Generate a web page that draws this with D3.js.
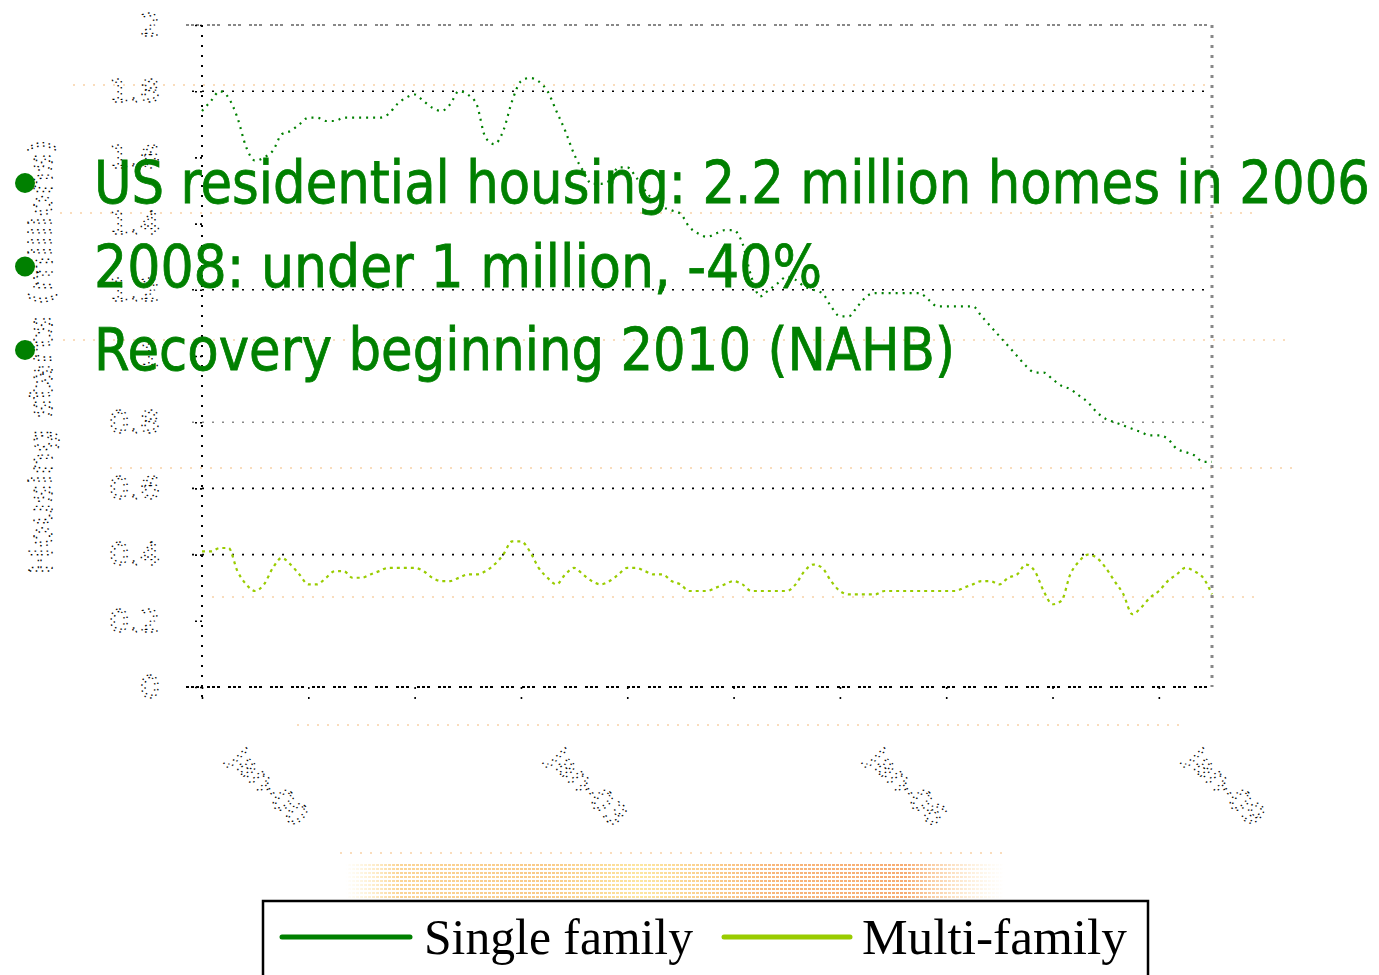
<!DOCTYPE html>
<html>
<head>
<meta charset="utf-8">
<script src="https://cdn.jsdelivr.net/npm/d3@7"></script>
<style>
body { margin: 0; background: #fff; }
svg { display: block; }
</style>
</head>
<body>
<div id="chart"></div>
<script>
// monthly values, Jan-00 .. Jul-09 (millions of units)
var singleFamily = [
  1.74, 1.77, 1.80, 1.78, 1.72, 1.63, 1.59, 1.60, 1.62, 1.67, 1.68, 1.70,
  1.72, 1.72, 1.71, 1.71, 1.72, 1.72, 1.72, 1.72, 1.72, 1.73, 1.76, 1.78,
  1.79, 1.77, 1.75, 1.74, 1.76, 1.80, 1.79, 1.76, 1.66, 1.64, 1.68, 1.77,
  1.83, 1.84, 1.83, 1.80, 1.74, 1.68, 1.61, 1.56, 1.52, 1.52, 1.53, 1.57,
  1.57, 1.54, 1.50, 1.47, 1.45, 1.44, 1.43, 1.39, 1.37, 1.36, 1.37, 1.38,
  1.38, 1.34, 1.24, 1.18, 1.20, 1.22, 1.24, 1.23, 1.21, 1.20, 1.19, 1.15,
  1.12, 1.12, 1.15, 1.18, 1.19, 1.19, 1.19, 1.19, 1.19, 1.19, 1.17, 1.15,
  1.15, 1.15, 1.15, 1.15, 1.12, 1.09, 1.06, 1.03, 1.00, 0.97, 0.95, 0.95,
  0.93, 0.91, 0.90, 0.88, 0.86, 0.83, 0.81, 0.80, 0.79, 0.78, 0.77, 0.76,
  0.76, 0.75, 0.72, 0.71, 0.70, 0.68, 0.68
];
var multiFamily = [
  0.41, 0.41, 0.42, 0.42, 0.35, 0.31, 0.29, 0.31, 0.36, 0.39, 0.37, 0.34,
  0.31, 0.31, 0.33, 0.35, 0.35, 0.33, 0.33, 0.34, 0.35, 0.36, 0.36, 0.36,
  0.36, 0.35, 0.33, 0.32, 0.32, 0.33, 0.34, 0.34, 0.35, 0.37, 0.40, 0.44,
  0.44, 0.41, 0.36, 0.33, 0.31, 0.34, 0.36, 0.34, 0.32, 0.31, 0.32, 0.34,
  0.36, 0.36, 0.35, 0.34, 0.34, 0.32, 0.31, 0.29, 0.29, 0.29, 0.30, 0.31,
  0.32, 0.31, 0.29, 0.29, 0.29, 0.29, 0.29, 0.31, 0.35, 0.37, 0.36, 0.32,
  0.29, 0.28, 0.28, 0.28, 0.28, 0.29, 0.29, 0.29, 0.29, 0.29, 0.29, 0.29,
  0.29, 0.29, 0.30, 0.31, 0.32, 0.32, 0.31, 0.33, 0.34, 0.37, 0.35, 0.29,
  0.25, 0.26, 0.34, 0.38, 0.40, 0.39, 0.36, 0.32, 0.28, 0.22, 0.24, 0.27,
  0.29, 0.32, 0.34, 0.36, 0.35, 0.33, 0.28
];
var seriesNames = ["Single family", "Multi-family"];
var seriesColors = ["#008000", "#99cc00"];

var yTicks = [0, 0.2, 0.4, 0.6, 0.8, 1, 1.2, 1.4, 1.6, 1.8, 2];
var gridValues = [1.8, 1.2, 0.8, 0.6, 0.4];
var xTickMonths = [0, 12, 24, 36, 48, 60, 72, 84, 96, 108];
var xLabelMonths = [0, 36, 72, 108];
var xLabelText = ["Jan-00", "Jan-03", "Jan-06", "Jan-09"];
var yTitle = "Housing starts (millions)";

var bullets = [
  "US residential housing: 2.2 million homes in 2006",
  "2008: under 1 million, -40%",
  "Recovery beginning 2010 (NAHB)"
];

/*======================== layout ========================*/
var width = 1379, height = 975;
var plotL = 202, plotR = 1212, plotT = 25, plotB = 687;

var svg = d3.select("#chart").append("svg")
  .attr("width", width)
  .attr("height", height);

var defs = svg.append("defs");

// dotted mask for the faded orange band
var pat = defs.append("pattern")
  .attr("id", "dots")
  .attr("patternUnits", "userSpaceOnUse")
  .attr("width", 4).attr("height", 4);
pat.append("rect").attr("width", 3).attr("height", 2).attr("fill", "#fff");

var grad = defs.append("linearGradient").attr("id", "bandGrad");
[[0, "#fde9b0", 0], [0.08, "#fbd596", 1], [0.3, "#f9ca88", 1], [0.45, "#fde6a0", 1],
 [0.65, "#f8b67a", 1], [0.85, "#f7ac72", 1], [1, "#fde6b0", 0]].forEach(function(s) {
  grad.append("stop").attr("offset", s[0]).attr("stop-color", s[1]).attr("stop-opacity", s[2]);
});
var mask = defs.append("mask").attr("id", "bandMask");
mask.append("rect").attr("x", 0).attr("y", 0).attr("width", width).attr("height", height)
  .attr("fill", "url(#dots)");

var x = d3.scaleLinear().domain([0, singleFamily.length - 1]).range([plotL, plotR]);
var y = d3.scaleLinear().domain([0, 2]).range([plotB, plotT]);

// dotted "outline" look used for the axis texts
function dotted(sel) {
  sel.attr("fill", "none").attr("stroke", "#000").attr("stroke-width", 1.3)
    .attr("stroke-dasharray", "1.5,4.5");
}

/*======================== faint background lines ========================*/
var decor = svg.append("g");
var decorRows = [[85, 73, 1207], [213, 60, 1260], [340, 63, 1292], [468, 110, 1292],
                 [597, 212, 1262], [725, 297, 1186], [853, 340, 1004]];
decorRows.forEach(function(r) {
  decor.append("line")
    .attr("x1", r[1]).attr("x2", r[2]).attr("y1", r[0]).attr("y2", r[0])
    .attr("stroke", "#f4bd80").attr("stroke-width", 1.5)
    .attr("stroke-dasharray", "2,8").attr("opacity", 0.7);
});
svg.append("rect")
  .attr("x", 345).attr("y", 862).attr("width", 660).attr("height", 36)
  .attr("fill", "url(#bandGrad)")
  .attr("mask", "url(#bandMask)");

/*======================== grid + frame ========================*/
var g = svg.append("g");

g.selectAll(".grid")
  .data(gridValues)
  .enter().append("line")
  .attr("class", "grid")
  .attr("x1", plotL - 10).attr("x2", plotR)
  .attr("y1", function(d) { return y(d); })
  .attr("y2", function(d) { return y(d); })
  .attr("stroke", function(d) { return d === 0.8 ? "#888" : "#000"; })
  .attr("stroke-width", 1.6)
  .attr("stroke-dasharray", "2,8");

// top and right frame (grey)
g.append("line").attr("x1", plotL - 16).attr("x2", plotR).attr("y1", plotT).attr("y2", plotT)
  .attr("stroke", "#888").attr("stroke-width", 2.2).attr("stroke-dasharray", "3,2,3,2,3,8");
g.append("line").attr("x1", plotR).attr("x2", plotR).attr("y1", plotT).attr("y2", plotB)
  .attr("stroke", "#888").attr("stroke-width", 3).attr("stroke-dasharray", "3,7");

// y axis
var yAxis = g.append("g")
  .attr("transform", "translate(" + plotL + ",0)")
  .call(d3.axisLeft(y).tickValues(yTicks).tickFormat(d3.format("~g")).tickSize(10).tickPadding(32));
yAxis.select(".domain").remove();
yAxis.append("line").attr("x1", 0).attr("x2", 0).attr("y1", plotT).attr("y2", plotB + 14)
  .attr("stroke", "#000").attr("stroke-width", 2).attr("stroke-dasharray", "2,8");
yAxis.selectAll(".tick line").attr("stroke", "#000").attr("stroke-width", 1.6)
  .attr("stroke-dasharray", "2,3");
yAxis.selectAll(".tick text")
  .attr("font-family", "DejaVu Sans").attr("font-size", 32)
  .call(dotted);

// x axis
var xAxis = g.append("g")
  .attr("transform", "translate(0," + plotB + ")")
  .call(d3.axisBottom(x).tickValues(xTickMonths).tickSize(13)
    .tickFormat(function(d) {
      var i = xLabelMonths.indexOf(d);
      return i < 0 ? "" : xLabelText[i];
    }));
xAxis.select(".domain").remove();
xAxis.append("line").attr("x1", plotL - 16).attr("x2", plotR).attr("y1", 0).attr("y2", 0)
  .attr("stroke", "#000").attr("stroke-width", 2).attr("stroke-dasharray", "3,2,3,2,3,8");
xAxis.selectAll(".tick line").attr("stroke", "#000").attr("stroke-width", 1.6)
  .attr("stroke-dasharray", "2,8");
xAxis.selectAll(".tick text")
  .attr("y", 0).attr("dy", 0)
  .attr("text-anchor", "start")
  .attr("transform", "translate(26,74) rotate(45)")
  .attr("font-family", "DejaVu Sans").attr("font-size", 30)
  .call(dotted);

// y title
svg.append("text")
  .attr("transform", "translate(52,357) rotate(-90)")
  .attr("text-anchor", "middle")
  .attr("font-family", "DejaVu Sans").attr("font-size", 32)
  .attr("textLength", 435).attr("lengthAdjust", "spacingAndGlyphs")
  .call(dotted)
  .text(yTitle);

/*======================== series ========================*/
var line = d3.line()
  .x(function(d, i) { return x(i); })
  .y(function(d) { return y(d); })
  .curve(d3.curveMonotoneX);

g.append("path").datum(multiFamily)
  .attr("d", line).attr("fill", "none")
  .attr("stroke", seriesColors[1]).attr("stroke-width", 2.2)
  .attr("stroke-dasharray", "3,4");
g.append("path").datum(singleFamily)
  .attr("d", line).attr("fill", "none")
  .attr("stroke", seriesColors[0]).attr("stroke-width", 2.2)
  .attr("stroke-dasharray", "2,5");

/*======================== bullet text ========================*/
var bulletLen = [1276, 728, 861];
var tg = svg.append("g");
bullets.forEach(function(t, i) {
  var by = 203 + i * 83.5;
  tg.append("circle").attr("cx", 25).attr("cy", by - 20).attr("r", 10).attr("fill", "#008000");
  tg.append("text")
    .attr("x", 94).attr("y", by)
    .attr("font-family", "DejaVu Sans").attr("font-size", 59)
    .attr("textLength", bulletLen[i]).attr("lengthAdjust", "spacingAndGlyphs")
    .attr("fill", "#008000").attr("stroke", "#008000").attr("stroke-width", 0.8)
    .text(t);
});

/*======================== legend ========================*/
var lg = svg.append("g");
lg.append("rect")
  .attr("x", 263).attr("y", 901).attr("width", 885).attr("height", 90)
  .attr("fill", "#fff").attr("stroke", "#000").attr("stroke-width", 2.5);
var legX = [[282, 410, 424], [724, 850, 862]];
seriesNames.forEach(function(name, i) {
  lg.append("line")
    .attr("x1", legX[i][0]).attr("x2", legX[i][1]).attr("y1", 937).attr("y2", 937)
    .attr("stroke", seriesColors[i]).attr("stroke-width", 5).attr("stroke-linecap", "round");
  lg.append("text")
    .attr("x", legX[i][2]).attr("y", 954)
    .attr("font-family", "Liberation Serif").attr("font-size", 50)
    .attr("textLength", i === 0 ? 269 : 265).attr("lengthAdjust", "spacingAndGlyphs")
    .attr("fill", "#000")
    .text(name);
});
</script>
</body>
</html>
